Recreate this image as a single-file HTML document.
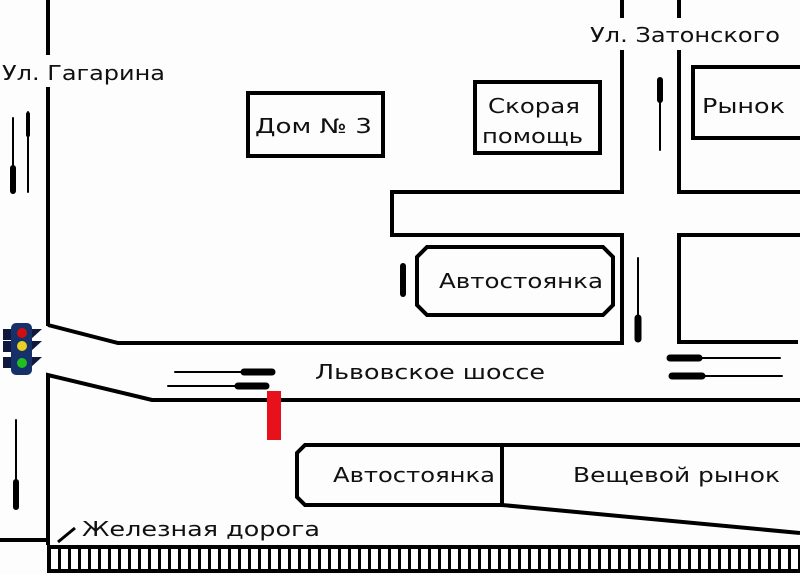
<!DOCTYPE html>
<html><head><meta charset="utf-8"><style>
html,body{margin:0;padding:0;background:#fff;}
svg{display:block}
text{font-family:"DejaVu Sans","Liberation Sans",sans-serif;fill:#111;}
</style></head><body>
<svg width="800" height="575" viewBox="0 0 800 575" xmlns="http://www.w3.org/2000/svg">
<rect width="800" height="575" fill="#fdfdfd"/>
<g stroke="#000" stroke-width="4" fill="none">
<line x1="48" y1="0" x2="48" y2="55"/>
<line x1="48" y1="87" x2="48" y2="326"/>
<polyline points="48,325 118,343 622,343 622,235 392,235 392,192 622,192 622,50"/>
<line x1="622" y1="0" x2="622" y2="18"/>
<line x1="679" y1="0" x2="679" y2="18"/>
<polyline points="679,50 679,192 800,192"/>
<polyline points="800,235 679,235 679,342 798,342"/>
<polyline points="48,545 48,375 152,400 800,400"/>
<line x1="0" y1="540" x2="48" y2="540"/>
<line x1="58" y1="542" x2="75" y2="528" stroke-width="3"/>
<rect x="248" y="93" width="135" height="63"/>
<rect x="475" y="82" width="125" height="71"/>
<polyline points="800,67 693,67 693,138 800,138"/>
<polygon points="427,247 603,247 613,257 613,305 603,315 427,315 417,305 417,257"/>
<polyline points="800,445 305,445 297,453 297,497 305,505 502,505 800,533"/>
<line x1="502" y1="445" x2="502" y2="505"/>
<rect x="49" y="547" width="751" height="24"/>
</g>
<defs><pattern id="ties" x="58" y="0" width="10" height="575" patternUnits="userSpaceOnUse"><rect x="0" y="0" width="3" height="575" fill="#000"/></pattern></defs>
<rect x="52" y="549" width="746" height="20" fill="url(#ties)"/>
<g stroke="#000" stroke-linecap="round">
<line x1="13" y1="118" x2="13" y2="193" stroke-width="2"/>
<line x1="13" y1="168" x2="13" y2="191" stroke-width="6"/>
<line x1="28" y1="112" x2="28" y2="192" stroke-width="2"/>
<line x1="28" y1="114" x2="28" y2="135" stroke-width="4"/>
<line x1="16" y1="420" x2="16" y2="508" stroke-width="2"/>
<line x1="16" y1="482" x2="16" y2="507" stroke-width="6"/>
<line x1="660" y1="80" x2="660" y2="150" stroke-width="2"/>
<line x1="660" y1="80" x2="660" y2="100" stroke-width="6"/>
<line x1="638" y1="258" x2="638" y2="340" stroke-width="2"/>
<line x1="638" y1="318" x2="638" y2="339" stroke-width="7"/>
<line x1="403" y1="266" x2="403" y2="294" stroke-width="6"/>
<line x1="175" y1="372" x2="272" y2="372" stroke-width="2"/>
<line x1="244" y1="372" x2="272" y2="372" stroke-width="7"/>
<line x1="168" y1="386" x2="268" y2="386" stroke-width="2"/>
<line x1="238" y1="386" x2="266" y2="386" stroke-width="7"/>
<line x1="670" y1="358" x2="780" y2="358" stroke-width="2"/>
<line x1="670" y1="358" x2="699" y2="358" stroke-width="7"/>
<line x1="672" y1="376" x2="782" y2="376" stroke-width="2"/>
<line x1="672" y1="376" x2="702" y2="376" stroke-width="7"/>
</g>
<rect x="267" y="391" width="14" height="49" fill="#e8101a"/>
<g>
<path d="M3,329 L13,329 L13,340 L3,340 Z M3,341 L13,341 L13,352 L3,352 Z M3,357 L13,357 L13,368 L3,368 Z" fill="#111840"/>
<path d="M30,329 L42,329 L30,340 Z M30,341 L42,341 L30,352 Z M30,357 L42,357 L30,368 Z" fill="#111840"/>
<rect x="11" y="323" width="21" height="52" rx="5" fill="#16306a"/>
<circle cx="22" cy="333" r="5" fill="#d01010"/>
<circle cx="22" cy="346" r="5" fill="#e8d020"/>
<circle cx="22" cy="363" r="5" fill="#20c020"/>
</g>
<g font-size="20" lengthAdjust="spacingAndGlyphs">
<text x="2" y="80" textLength="163" lengthAdjust="spacingAndGlyphs">Ул. Гагарина</text>
<text x="590" y="42" textLength="190" lengthAdjust="spacingAndGlyphs">Ул. Затонского</text>
<text x="255" y="133" textLength="117" lengthAdjust="spacingAndGlyphs">Дом № 3</text>
<text x="488" y="113" textLength="92" lengthAdjust="spacingAndGlyphs">Скорая</text>
<text x="482" y="143" textLength="101" lengthAdjust="spacingAndGlyphs">помощь</text>
<text x="702" y="113" textLength="83" lengthAdjust="spacingAndGlyphs">Рынок</text>
<text x="439" y="288" textLength="164" lengthAdjust="spacingAndGlyphs">Автостоянка</text>
<text x="315" y="379" textLength="230" lengthAdjust="spacingAndGlyphs">Львовское шоссе</text>
<text x="333" y="482" textLength="162" lengthAdjust="spacingAndGlyphs">Автостоянка</text>
<text x="573" y="482" textLength="207" lengthAdjust="spacingAndGlyphs">Вещевой  рынок</text>
<text x="82" y="536" textLength="238" lengthAdjust="spacingAndGlyphs">Железная  дорога</text>
</g>
</svg>
</body></html>
